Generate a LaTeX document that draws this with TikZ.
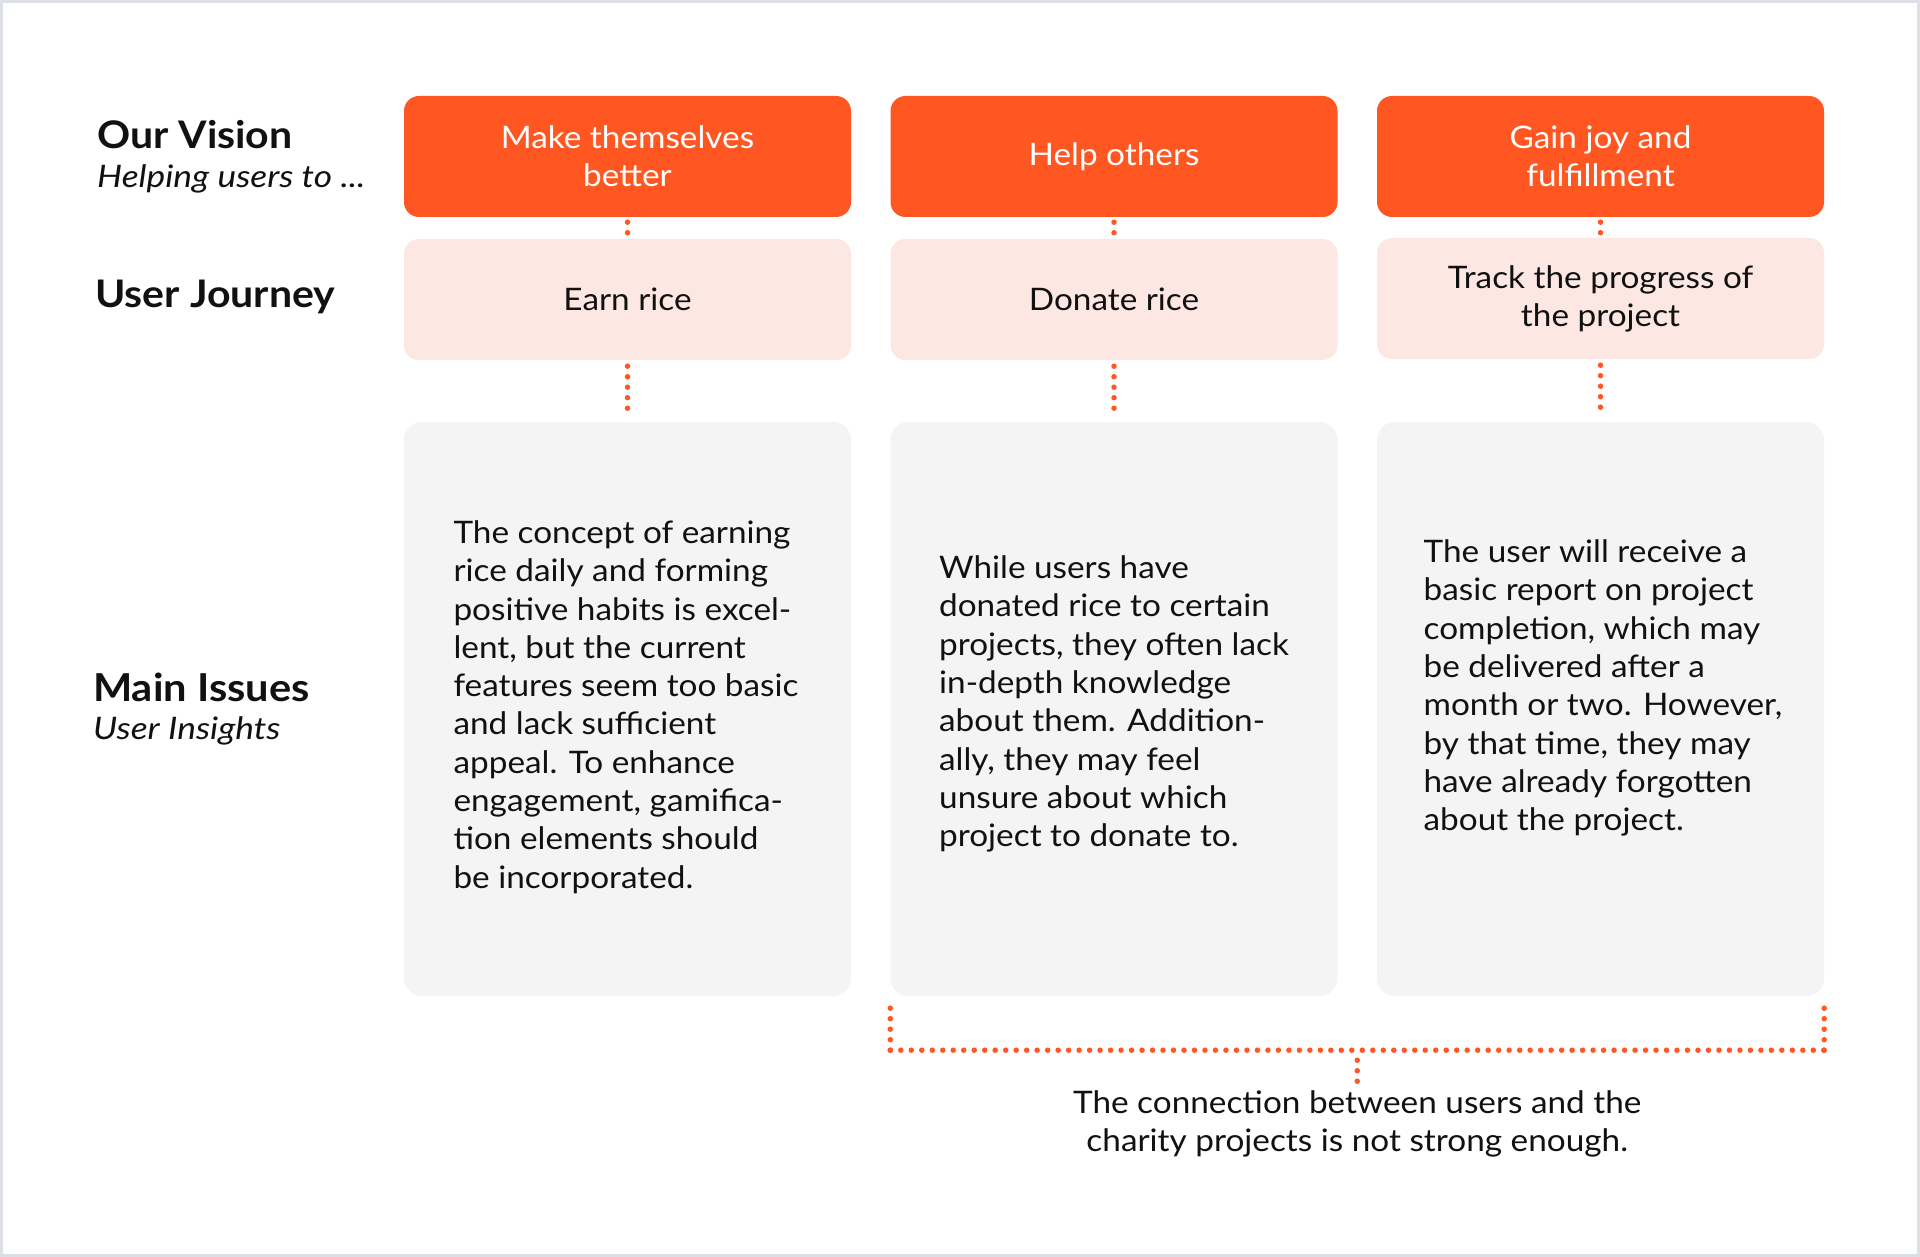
\documentclass[tikz,border=0pt]{standalone}
\usepackage{fontspec}
\setmainfont{Lato}
\newfontfamily\bodyf{Lato}[FakeStretch=1.075]
\newfontfamily\headf{Lato}[FakeStretch=1.08]
\newfontfamily\subf{Lato}[FakeStretch=1.14]
\usetikzlibrary{calc}
\definecolor{brand}{HTML}{FF5622}
\definecolor{blush}{HTML}{FDE7E2}
\definecolor{panel}{HTML}{F4F4F4}
\definecolor{ink}{HTML}{111111}
\definecolor{framec}{HTML}{DCDFE5}
\begin{document}
\begin{tikzpicture}[x=1pt,y=-1pt,
  vision/.style={fill=brand, rounded corners=15, minimum width=447, minimum height=121, text=white, align=center, font=\bodyf\fontsize{31}{38}\selectfont, inner sep=0},
  journey/.style={fill=blush, rounded corners=15, minimum width=447, minimum height=121, text=ink, align=center, font=\bodyf\fontsize{31}{38}\selectfont, inner sep=0},
  issuebox/.style={fill=panel, rounded corners=18, minimum width=447, minimum height=574, inner sep=0},
  bodytext/.style={text=ink, align=left, font=\bodyf\fontsize{31}{38.3}\selectfont, inner sep=0},
  notetext/.style={text=ink, align=center, font=\bodyf\fontsize{31}{38}\selectfont, inner sep=0},
  dotline/.style={draw=brand, line width=5.5, line cap=round, dash pattern=on 0pt off 10.5pt},
  heading/.style={anchor=base west, font=\headf\bfseries\fontsize{38}{44}\selectfont, text=ink, inner sep=0},
  subheading/.style={anchor=base west, font=\subf\itshape\fontsize{31}{36}\selectfont, text=ink, inner sep=0},
]
\useasboundingbox (0,0) rectangle (1920,1257);
\fill[white] (0,0) rectangle (1920,1257);
\draw[framec, line width=3] (1.5,1.5) rectangle (1918.5,1255.5);

% left labels
\node[heading] (hv) at (97,149) {Our Vision};
\node[subheading] (hvs) at (97,188) {Helping users to ...};
\node[heading] (hj) at (95,308) {User Journey};
\node[heading, font=\headf\bfseries\fontsize{38.5}{44}\selectfont] (hm) at (93,701) {Main Issues};
\node[subheading] (hms) at (93,739) {User Insights};

% vision row
\node[vision] (v1) at (627.5,156.5) {Make themselves\\better};
\node[vision] (v2) at (1114,156.5) {Help others};
\node[vision] (v3) at (1600.5,156.5) {Gain joy and\\fulfillment};

% journey row
\node[journey] (j1) at (627.5,299.5) {Earn rice};
\node[journey] (j2) at (1114,299.5) {Donate rice};
\node[journey] (j3) at (1600.5,298.5) {Track the progress of\\the project};

% issues row
\node[issuebox] (g1) at (627.5,709) {};
\node[issuebox] (g2) at (1114,709) {};
\node[issuebox] (g3) at (1600.5,709) {};

\node[bodytext] (t1) at (626,707) {The concept of earning\\rice daily and forming\\positive habits is excel-\\lent, but the current\\features seem too basic\\and lack sufficient\\appeal. To enhance\\engagement, gamifica-\\tion elements should\\be incorporated.};
\node[bodytext] (t2) at (1114,704) {While users have\\donated rice to certain\\projects, they often lack\\in-depth knowledge\\about them. Addition-\\ally, they may feel\\unsure about which\\project to donate to.};
\node[bodytext] (t3) at (1603,688) {The user will receive a\\basic report on project\\completion, which may\\be delivered after a\\month or two. However,\\by that time, they may\\have already forgotten\\about the project.};

% vertical connectors
\foreach \i in {1,2,3}{
  \draw[dotline] ([yshift=-5]v\i.south) -- ([yshift=5]j\i.north);
  \draw[dotline] ([yshift=-6]j\i.south) -- ([yshift=5]g\i.north);
}

% bracket
\coordinate (bl) at ([yshift=-54]g2.south west);
\coordinate (br) at ([yshift=-54]g3.south east);
\coordinate (bm) at ($(bl)!0.5!(br)$);
\coordinate (bs) at ([yshift=-32]bm);
\node[notetext] (note) at ($(bm)+(0,74)$) {The connection between users and the\\charity projects is not strong enough.};
\draw[dotline] ([yshift=-12]g2.south west) -- (bl);
\draw[dotline] ([yshift=-12]g3.south east) -- (br);
\draw[dotline, dash pattern=on 0pt off 10.489pt] (bl) -- (br);
\draw[dotline] ([yshift=-10]bm) -- (bs);
\end{tikzpicture}
\end{document}
